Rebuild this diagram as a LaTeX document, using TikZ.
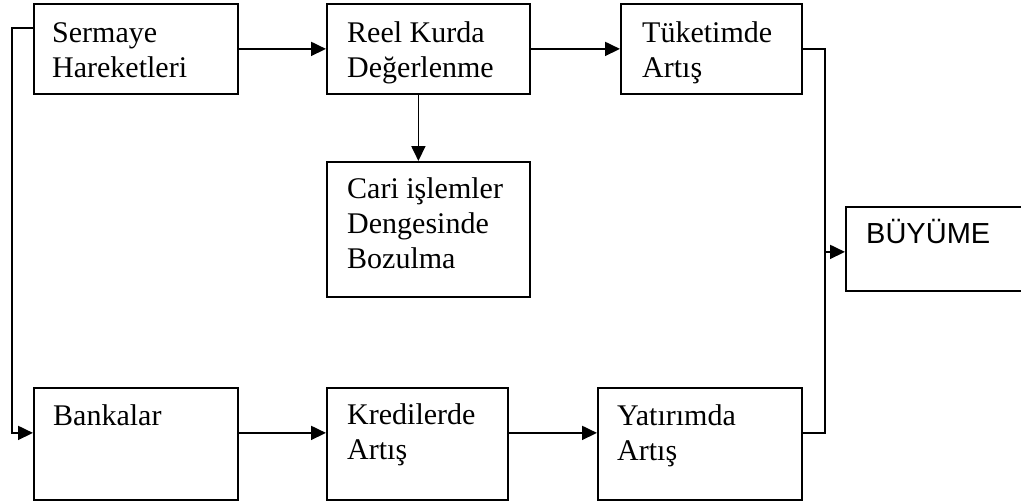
\documentclass[tikz,border=0pt]{standalone}
\usepackage{fontspec}
\setmainfont{Liberation Serif}
\newfontfamily\arialfont{Liberation Sans}
\usetikzlibrary{arrows.meta,calc}
\begin{document}
\begin{tikzpicture}[x=1pt,y=-1pt,
  box/.style={draw,line width=1.8pt,rectangle,inner sep=0pt,anchor=north west},
  txt/.style={anchor=base west,inner sep=0pt,align=left,font=\fontsize{30}{35}\selectfont},
  conn/.style={line width=1.8pt},
  arr/.style={conn,-{Triangle[length=15pt,width=14pt]}}]
\clip (0,0) rectangle (1021,501);
% boxes
\node[box,minimum width=204pt,minimum height=90pt] (serm) at (33,3) {};
\node[box,minimum width=203pt,minimum height=90pt] (reel) at (326,3) {};
\node[box,minimum width=181pt,minimum height=90pt] (tuk) at (620,3) {};
\node[box,minimum width=203pt,minimum height=135pt] (cari) at (326,161) {};
\node[box,minimum width=200pt,minimum height=84pt] (buy) at (845,206) {};
\node[box,minimum width=204pt,minimum height=112pt] (bank) at (33,387) {};
\node[box,minimum width=181pt,minimum height=112pt] (kred) at (326,387) {};
\node[box,minimum width=204pt,minimum height=112pt] (yat) at (597,387) {};
% texts (anchored at the baseline of the last line)
\node[txt] (tserm) at (52,77) {Sermaye\\Hareketleri};
\node[txt] (treel) at (347,77) {Reel Kurda\\Değerlenme};
\node[txt] (ttuk) at (642,77) {Tüketimde\\Artış};
\node[txt] (tcari) at (347,268) {Cari işlemler\\Dengesinde\\Bozulma};
\node[txt,font=\arialfont\fontsize{29}{34}\selectfont] (tbuy) at (866,243) {BÜYÜME};
\node[txt] (tbank) at (53,425) {Bankalar};
\node[txt] (tkred) at (347,459) {Kredilerde\\Artış};
\node[txt] (tyat) at (617,460) {Yatırımda\\Artış};
% connectors
\coordinate (bw) at ([yshift=-3pt]buy.west);
\draw[arr] (serm) -- (reel);
\draw[arr] (reel) -- (tuk);
\draw[arr] ([xshift=-10pt]reel.south) -- ([xshift=-10pt]cari.north);
\draw[arr] ([yshift=21pt]serm.west) -- ++(-21,0) |- ([yshift=11pt]bank.west);
\draw[arr] ([yshift=11pt]bank.east) -- ([yshift=11pt]kred.west);
\draw[arr] ([yshift=11pt]kred.east) -- ([yshift=11pt]kred.east -| yat.west);
\draw[conn] (tuk.east) -- ++(22,0) coordinate (jt) |- ([yshift=11pt]yat.east);
\draw[arr] (jt |- bw) -- (bw);
\end{tikzpicture}
\end{document}
